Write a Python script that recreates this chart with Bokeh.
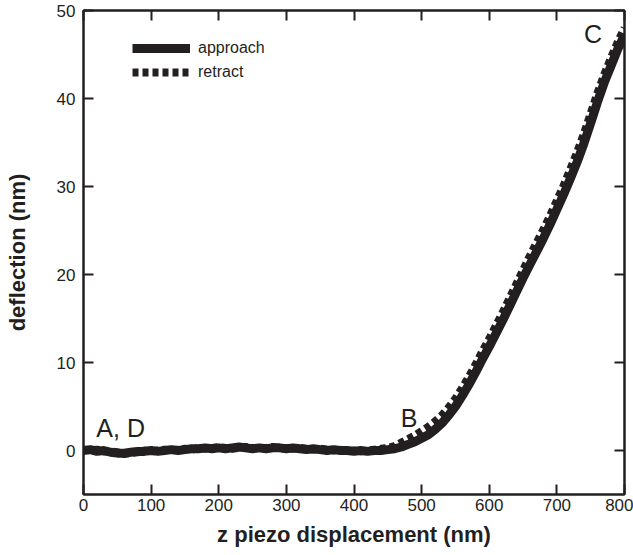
from bokeh.plotting import figure
from bokeh.models import Range1d, LinearAxis, FixedTicker, Legend, LegendItem, ColumnDataSource
from bokeh.core.properties import value
from bokeh.embed import file_html
from bokeh.resources import INLINE

# ---- data ----
z_nm = [0, 10, 20, 30, 40, 50, 60, 70, 80, 90, 100, 110, 120, 130, 140, 150, 160, 170, 180, 190,
        200, 210, 220, 230, 240, 250, 260, 270, 280, 290, 300, 310, 320, 330, 340, 350, 360, 370, 380, 390,
        400, 410, 420, 430, 440, 450, 460, 470, 480, 490, 500, 510, 520, 530, 540, 550, 560, 570, 580, 590,
        600, 610, 620, 630, 640, 650, 660, 670, 680, 690, 700, 710, 720, 730, 740, 750, 760, 770, 780, 790, 800]

approach = [0.0, 0.1, -0.1, 0.0, -0.2, -0.3, -0.3, -0.2, -0.1, -0.1, 0.0, -0.1, 0.0, 0.1, 0.0, 0.1, 0.2, 0.2, 0.3, 0.2,
            0.3, 0.2, 0.3, 0.4, 0.3, 0.2, 0.3, 0.2, 0.3, 0.3, 0.2, 0.3, 0.2, 0.1, 0.2, 0.1, 0.0, 0.1, 0.0, 0.0,
            -0.1, 0.0, -0.1, 0.0, 0.0, 0.1, 0.2, 0.4, 0.7, 1.0, 1.4, 1.8, 2.4, 3.1, 4.0, 5.0, 6.2, 7.5, 8.9, 10.4,
            11.8, 13.3, 14.8, 16.4, 18.0, 19.6, 21.1, 22.6, 24.1, 25.7, 27.4, 29.1, 30.9, 32.8, 34.9, 37.2, 39.6, 41.8, 43.7, 45.6, 47.2]

retract = [0.1, 0.0, 0.1, -0.1, -0.1, -0.2, -0.4, -0.3, -0.2, 0.0, -0.1, 0.0, 0.1, 0.0, 0.1, 0.2, 0.1, 0.3, 0.2, 0.3,
           0.4, 0.3, 0.2, 0.3, 0.4, 0.3, 0.2, 0.3, 0.4, 0.2, 0.3, 0.2, 0.3, 0.2, 0.1, 0.2, 0.1, 0.0, 0.1, -0.1,
           0.0, -0.1, 0.0, 0.1, 0.2, 0.3, 0.5, 0.9, 1.3, 1.7, 2.2, 2.7, 3.3, 4.0, 4.9, 5.9, 7.1, 8.4, 9.8, 11.3,
           12.7, 14.2, 15.7, 17.3, 18.9, 20.5, 22.1, 23.6, 25.1, 26.7, 28.4, 30.1, 32.0, 33.9, 36.0, 38.3, 40.6, 42.7, 44.6, 46.4, 48.0]

x_ticks = [0, 100, 200, 300, 400, 500, 600, 700, 800]
y_ticks = [0, 10, 20, 30, 40, 50]

point_labels = ["A, D", "B", "C"]
point_x = [19, 469, 740]
point_y = [2.6, 3.7, 47.3]

INK = "#231f20"
FONT = "Liberation Sans"

p = figure(width=633, height=555, output_backend="svg", toolbar_location=None,
           x_range=Range1d(0, 800), y_range=Range1d(-5, 50),
           min_border_left=83, min_border_right=9, min_border_top=10, min_border_bottom=61,
           x_axis_label="z piezo displacement (nm)", y_axis_label="deflection (nm)")
p.grid.visible = False
p.outline_line_color = INK
p.outline_line_width = 2
p.background_fill_color = "white"
p.border_fill_color = "white"

for ax, tk in ((p.xaxis[0], x_ticks), (p.yaxis[0], y_ticks)):
    ax.ticker = FixedTicker(ticks=tk)
    ax.axis_line_width = 2
    ax.axis_line_color = INK
    ax.major_tick_in = 10
    ax.major_tick_out = 0
    ax.major_tick_line_width = 2
    ax.major_tick_line_color = INK
    ax.minor_tick_line_color = None
    ax.major_label_text_font = FONT
    ax.major_label_text_font_size = "17px"
    ax.major_label_text_color = INK
    ax.axis_label_text_font = FONT
    ax.axis_label_text_font_style = "bold"
    ax.axis_label_text_font_size = "22px"
    ax.axis_label_text_color = INK
p.xaxis[0].major_label_standoff = 4
p.xaxis[0].axis_label_standoff = 8
p.yaxis[0].major_label_standoff = 8
p.yaxis[0].axis_label_standoff = 24

def tick_only_axis(ticks):
    return LinearAxis(ticker=FixedTicker(ticks=ticks),
                      major_label_overrides={t: "" for t in ticks},
                      major_tick_in=10, major_tick_out=0, major_tick_line_width=2,
                      major_tick_line_color=INK, minor_tick_line_color=None,
                      axis_line_width=2, axis_line_color=INK, major_label_standoff=0,
                      major_label_text_font_size="1px")

p.add_layout(tick_only_axis(x_ticks), "above")
p.add_layout(tick_only_axis(y_ticks), "right")

src = ColumnDataSource(dict(z=z_nm, a=approach, r=retract))
r_ret = p.line("z", "r", source=src, line_width=8, line_color=INK, line_dash="6 4")
r_app = p.line("z", "a", source=src, line_width=9, line_color=INK)

lsrc = ColumnDataSource(dict(x=point_x, y=point_y, t=point_labels))
p.text("x", "y", text="t", source=lsrc, text_font=value(FONT), text_font_size="25px",
       text_color=INK, text_baseline="middle", text_align="left")

legend = Legend(items=[LegendItem(label="approach", renderers=[r_app]),
                       LegendItem(label="retract", renderers=[r_ret])],
                location=(49, 412), glyph_width=58, glyph_height=20, spacing=4,
                padding=0, margin=0, label_standoff=8, border_line_color=None,
                background_fill_alpha=0, label_text_font=FONT, label_text_font_size="16px",
                label_text_color=INK)
p.add_layout(legend)

open("out.html", "w").write(file_html(p, INLINE))
